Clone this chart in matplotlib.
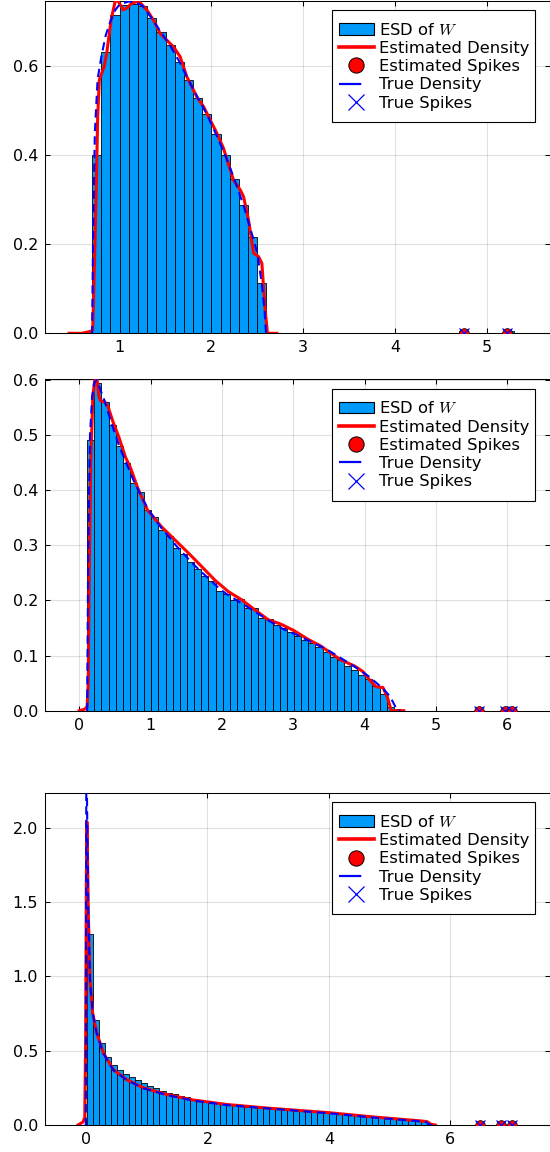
"""Three-panel ESD histogram with estimated/true densities and spikes."""
import matplotlib
matplotlib.use("Agg")
import matplotlib.pyplot as plt
from matplotlib.lines import Line2D
from matplotlib.patches import Patch

plt.rcParams["font.family"] = ["DejaVu Sans"]
plt.rcParams["mathtext.fontset"] = "cm"

BAR_COLOR = "#009AFA"
BIN_WIDTH = 0.1

# ---- panel 1 ----
p1_bin_start = 0.70
p1_heights = [0.400, 0.632, 0.715, 0.737, 0.740, 0.735, 0.707, 0.676, 0.646, 0.610,
              0.569, 0.529, 0.492, 0.447, 0.400, 0.346, 0.287, 0.217, 0.114]
p1_spike_bins = [4.70, 5.20]
p1_spike_heights = [0.0045, 0.0045]
p1_est_x = [0.45, 0.587, 0.678, 0.707, 0.725, 0.743, 0.761, 0.779, 0.805, 0.830, 0.859,
            0.907, 0.950, 0.976, 1.041, 1.078, 1.132, 1.187, 1.223, 1.296, 1.369,
            1.441, 1.514, 1.587, 1.659, 1.732, 1.841, 1.914, 1.987, 2.060, 2.132,
            2.205, 2.241, 2.314, 2.350, 2.405, 2.459, 2.514, 2.550, 2.586, 2.611,
            2.713]
p1_est_y = [0.0, 0.0, 0.004, 0.007, 0.15, 0.30, 0.486, 0.569, 0.584, 0.598, 0.628,
            0.703, 0.744, 0.748, 0.726, 0.730, 0.741, 0.744, 0.742, 0.726, 0.703,
            0.673, 0.658, 0.643, 0.621, 0.576, 0.531, 0.509, 0.479, 0.449, 0.415,
            0.367, 0.344, 0.322, 0.307, 0.254, 0.180, 0.172, 0.157, 0.052, 0.0,
            0.0]
p1_true_x = [0.69, 0.70, 0.71, 0.73, 0.76, 0.80, 0.85, 0.90, 0.95, 1.00, 1.10, 1.20,
             1.25, 1.35, 1.45, 1.55, 1.65, 1.75, 1.85, 1.95, 2.05, 2.15, 2.25, 2.35,
             2.45, 2.50, 2.55, 2.58, 2.595, 2.62]
p1_true_y = [0.0, 0.0, 0.2, 0.45, 0.57, 0.62, 0.67, 0.70, 0.725, 0.738, 0.745, 0.74,
             0.735, 0.707, 0.676, 0.646, 0.610, 0.569, 0.529, 0.492, 0.447, 0.400,
             0.346, 0.287, 0.217, 0.18, 0.11, 0.05, 0.0, 0.0]
p1_est_spikes = [4.752, 5.217]
p1_true_spikes = [4.75, 5.22]

# ---- panel 2 ----
p2_bin_start = 0.11
p2_heights = [0.491, 0.594, 0.560, 0.518, 0.480, 0.449, 0.414, 0.396, 0.364, 0.351,
              0.328, 0.317, 0.296, 0.284, 0.270, 0.258, 0.245, 0.236, 0.218, 0.212,
              0.201, 0.203, 0.186, 0.186, 0.169, 0.166, 0.155, 0.1495, 0.143, 0.1356,
              0.128, 0.122, 0.116, 0.107, 0.097, 0.092, 0.081, 0.074, 0.065, 0.057,
              0.044, 0.030, 0.007, 0.003]
p2_spike_bins = []
p2_spike_heights = []
p2_est_x = [0.0, 0.08, 0.11, 0.125, 0.14, 0.16, 0.19, 0.225, 0.25, 0.275, 0.30, 0.36,
            0.40, 0.47, 0.553, 0.647, 0.72, 0.81, 0.956, 1.15, 1.34, 1.53, 1.72,
            1.90, 2.09, 2.28, 2.46, 2.65, 2.827, 3.014, 3.2, 3.39, 3.53, 3.67, 3.86,
            3.976, 4.07, 4.16, 4.257, 4.318, 4.374, 4.55]
p2_est_y = [0.0, 0.003, 0.008, 0.05, 0.25, 0.45, 0.57, 0.61, 0.60, 0.57, 0.562, 0.56,
            0.553, 0.525, 0.497, 0.46, 0.44, 0.407, 0.364, 0.334, 0.31, 0.286, 0.261,
            0.237, 0.216, 0.201, 0.183, 0.165, 0.157, 0.145, 0.130, 0.117, 0.104,
            0.092, 0.081, 0.071, 0.0557, 0.0436, 0.042, 0.025, 0.0, 0.0]
p2_true_x = [0.10, 0.11, 0.125, 0.15, 0.18, 0.21, 0.24, 0.26, 0.36, 0.46, 0.56, 0.66,
             0.76, 0.86, 0.96, 1.06, 1.16, 1.26, 1.36, 1.46, 1.56, 1.66, 1.76, 1.86,
             1.96, 2.06, 2.26, 2.46, 2.66, 2.86, 3.06, 3.26, 3.46, 3.66, 3.86, 4.06,
             4.26, 4.36, 4.42, 4.46, 4.50]
p2_true_y = [0.0, 0.0, 0.3, 0.5, 0.57, 0.595, 0.60, 0.595, 0.56, 0.518, 0.48, 0.449,
             0.418, 0.392, 0.366, 0.348, 0.33, 0.315, 0.299, 0.285, 0.271, 0.258,
             0.246, 0.234, 0.222, 0.212, 0.196, 0.18, 0.163, 0.148, 0.137, 0.124,
             0.112, 0.096, 0.08, 0.062, 0.04, 0.025, 0.01, 0.0, 0.0]
p2_est_spikes = [5.608, 5.968, 6.07]
p2_true_spikes = [5.61, 5.97, 6.07]

# ---- panel 3 ----
p3_bin_start = 0.01
p3_heights = [1.284, 0.706, 0.549, 0.459, 0.403, 0.37, 0.343, 0.321, 0.303, 0.28,
              0.262, 0.247, 0.231, 0.217, 0.206, 0.197, 0.186, 0.177, 0.168, 0.157,
              0.15, 0.146, 0.14, 0.137, 0.133, 0.128, 0.124, 0.12, 0.117, 0.113,
              0.111, 0.106, 0.104, 0.1, 0.097, 0.094, 0.091, 0.089, 0.086, 0.083,
              0.08, 0.077, 0.074, 0.071, 0.067, 0.064, 0.061, 0.058, 0.055, 0.051,
              0.048, 0.045, 0.041, 0.037, 0.032, 0.024]
p3_spike_bins = []
p3_spike_heights = []
p3_est_x = [-0.13, -0.05, -0.02, -0.005, 0.005, 0.015, 0.025, 0.04, 0.066, 0.11, 0.176,
            0.286, 0.45, 0.67, 0.945, 1.33, 1.77, 2.32, 2.98, 3.5, 4.0, 4.68, 5.23,
            5.5, 5.62, 5.68, 5.75]
p3_est_y = [0.0, 0.02, 0.05, 0.6, 1.6, 2.04, 1.8, 1.40, 0.975, 0.753, 0.62, 0.485,
            0.372, 0.305, 0.25, 0.205, 0.168, 0.138, 0.114, 0.098, 0.083, 0.056,
            0.037, 0.028, 0.022, 0.005, 0.0]
p3_true_x = [-0.02, -0.003, 0.0, 0.006, 0.022, 0.038, 0.066, 0.11, 0.176, 0.286, 0.45,
             0.67, 0.945, 1.33, 1.77, 2.32, 2.98, 3.5, 4.0, 4.68, 5.23, 5.59, 5.67,
             5.75]
p3_true_y = [0.0, 0.0, 1.0, 2.6, 2.0, 1.42, 0.975, 0.753, 0.618, 0.482, 0.37, 0.303,
             0.247, 0.202, 0.164, 0.134, 0.112, 0.095, 0.079, 0.052, 0.034, 0.022,
             0.0, 0.0]
p3_est_spikes = [6.489, 6.835, 7.021]
p3_true_spikes = [6.49, 6.835, 7.02]

W, H = 550, 1152
AX_W_PX = 549.5 - 45


def panel_rect(top_px, bottom_px):
    return [45 / W, 1 - bottom_px / H, AX_W_PX / W, (bottom_px - top_px) / H]


def draw_panel(ax, bin_start, heights, spike_bins, spike_heights, est_x, est_y,
               true_x, true_y, est_spikes, true_spikes, xlim, ylim, xticks, yticks,
               yfmt, height_px):
    lefts = [bin_start + i * BIN_WIDTH for i in range(len(heights))]
    ax.bar(lefts + spike_bins, heights + spike_heights, width=BIN_WIDTH, align="edge",
           color=BAR_COLOR, edgecolor="black", linewidth=0.6, zorder=2)
    ax.plot(est_x, est_y, color="red", lw=2.2, zorder=3)
    ax.plot(est_spikes, [0] * len(est_spikes), ls="none", marker="o", ms=7,
            mfc="red", mec="black", mew=0.5, zorder=4)
    ax.plot(true_x, true_y, color="blue", lw=1.5, dashes=(4, 2.5), zorder=5)
    ax.plot(true_spikes, [0] * len(true_spikes), ls="none", marker="x", ms=7,
            color="blue", mew=0.9, zorder=6)

    ax.set_xlim(*xlim)
    ax.set_ylim(*ylim)
    ax.set_xticks(xticks)
    ax.set_yticks(yticks)
    ax.set_yticklabels([yfmt.format(v) for v in yticks])
    ax.set_axisbelow(True)
    ax.grid(True, color="black", alpha=0.12, lw=0.8)
    ax.tick_params(direction="in", length=3.5, width=0.75, top=True, right=True,
                   labelsize=11.5, pad=5)
    for sp in ax.spines.values():
        sp.set_linewidth(0.75)

    handles = [
        Patch(facecolor=BAR_COLOR, edgecolor="black", linewidth=0.8),
        Line2D([], [], color="red", lw=2.6),
        Line2D([], [], ls="none", marker="o", ms=11, mfc="red", mec="black", mew=0.7),
        Line2D([], [], color="blue", lw=1.6, dashes=(10, 10)),
        Line2D([], [], ls="none", marker="x", ms=11, color="blue", mew=0.9),
    ]
    labels = ["ESD of $W$", "Estimated Density", "Estimated Spikes", "True Density",
              "True Spikes"]
    # frame gets a small extra pad: ~1.2 px sideways, ~5 px up/down
    pad_x, aspect = 0.1, 4.2
    pad_x_px = pad_x * 11.8
    pad_y_px = pad_x_px * aspect
    leg = ax.legend(handles, labels, loc="upper right",
                    bbox_to_anchor=(1 - (14.5 + pad_x_px) / AX_W_PX,
                                    1 - (11.5 + pad_y_px) / height_px),
                    borderaxespad=0, fontsize=11.8, frameon=True, fancybox=False,
                    edgecolor="black", framealpha=1, borderpad=0.28,
                    labelspacing=0.2, handlelength=2.15, handletextpad=0.3)
    frame = leg.get_frame()
    frame.set_linewidth(0.8)
    frame.set_boxstyle("square", pad=pad_x)
    frame.set_mutation_aspect(aspect)


fig = plt.figure(figsize=(W / 100, H / 100), dpi=100)

ax1 = fig.add_axes(panel_rect(0.5, 333.3))
draw_panel(ax1, p1_bin_start, p1_heights, p1_spike_bins, p1_spike_heights,
           p1_est_x, p1_est_y, p1_true_x, p1_true_y, p1_est_spikes, p1_true_spikes,
           (0.187, 5.684), (0, 0.747), [1, 2, 3, 4, 5], [0.0, 0.2, 0.4, 0.6],
           "{:.1f}", 332.8)

ax2 = fig.add_axes(panel_rect(379.3, 710.7))
draw_panel(ax2, p2_bin_start, p2_heights, p2_spike_bins, p2_spike_heights,
           p2_est_x, p2_est_y, p2_true_x, p2_true_y, p2_est_spikes, p2_true_spikes,
           (-0.481, 6.592), (0, 0.6013), [0, 1, 2, 3, 4, 5, 6],
           [0.0, 0.1, 0.2, 0.3, 0.4, 0.5, 0.6], "{:.1f}", 331.4)

ax3 = fig.add_axes(panel_rect(792.7, 1125))
draw_panel(ax3, p3_bin_start, p3_heights, p3_spike_bins, p3_spike_heights,
           p3_est_x, p3_est_y, p3_true_x, p3_true_y, p3_est_spikes, p3_true_spikes,
           (-0.675, 7.633), (0, 2.2355), [0, 2, 4, 6], [0.0, 0.5, 1.0, 1.5, 2.0],
           "{:.1f}", 332.3)

fig.savefig("out.png", dpi=100, facecolor="white")
